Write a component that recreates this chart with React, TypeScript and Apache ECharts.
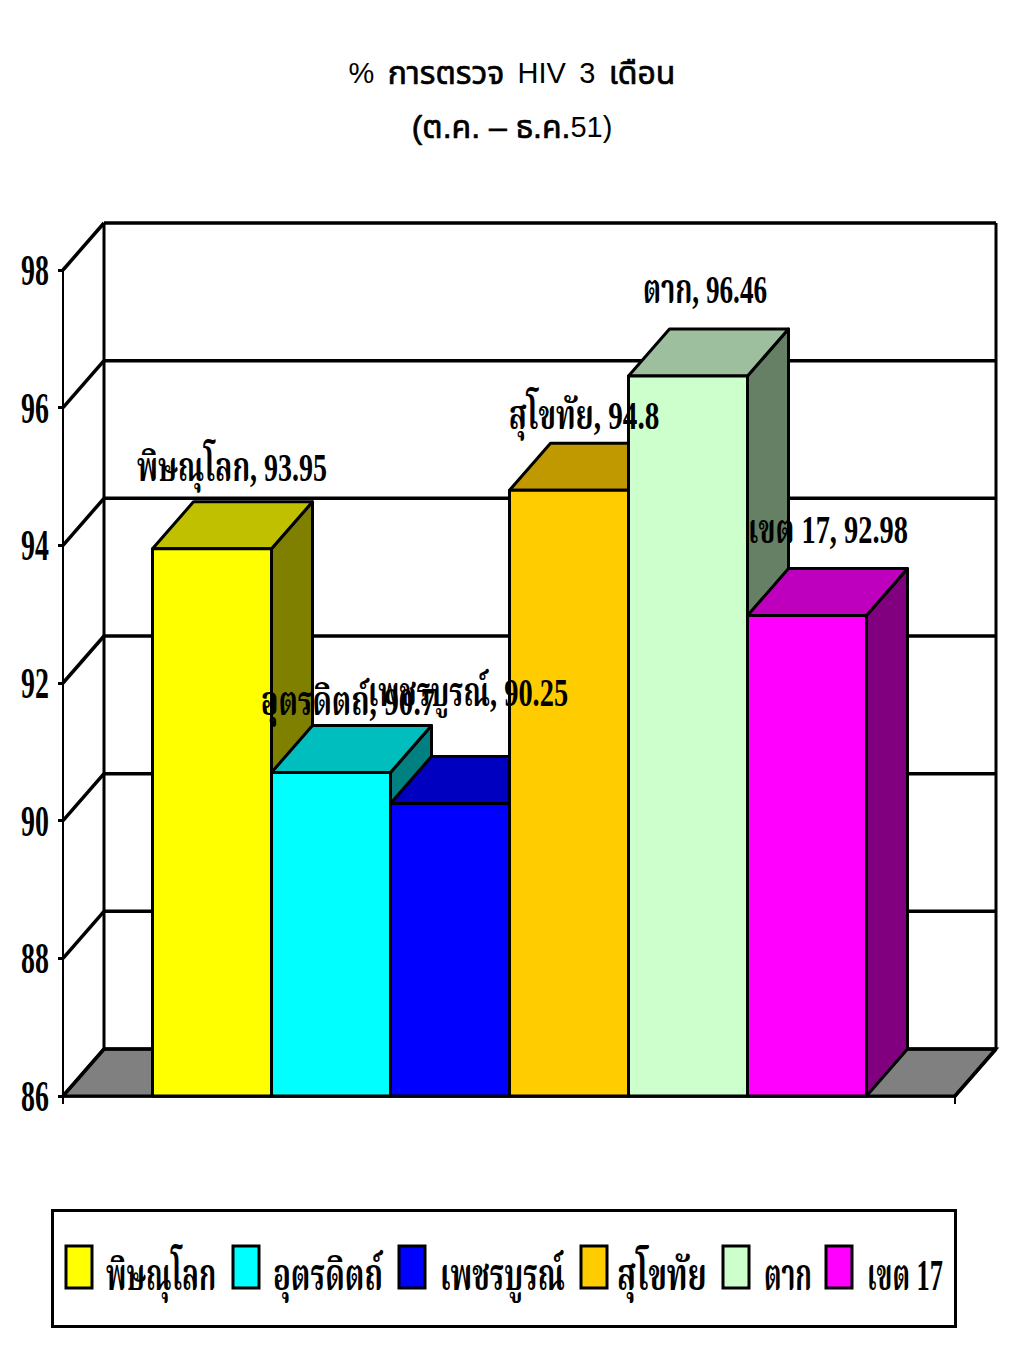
import React, { useEffect, useRef } from "react";
import * as echarts from "echarts";

const categories = ["พิษณุโลก", "อุตรดิตถ์", "เพชรบูรณ์", "สุโขทัย", "ตาก", "เขต 17"];
const values = [93.95, 90.7, 90.25, 94.8, 96.46, 92.98];
const frontColors = ["#FFFF00", "#00FFFF", "#0000FF", "#FFCC00", "#CCFFCC", "#FF00FF"];
const topColors = ["#C0C000", "#00BEBE", "#0000C0", "#C09900", "#9DBF9D", "#BE00BE"];
const sideColors = ["#808000", "#008080", "#000080", "#806600", "#668066", "#800080"];
const tickValues = [86, 88, 90, 92, 94, 96, 98];
const tickLabels = ["86", "88", "90", "92", "94", "96", "98"];

const labelShift = [[0, -35], [-3, -24], [-2, -64], [-5, -27], [-3, -39], [1, -39]];
const labelScale = [0.7, 0.73, 0.71, 0.73, 0.68, 0.71];
const legendSwatchX = [66, 233, 399, 581, 723, 826];
const legendTextX = [106, 273, 440, 617, 764, 867];
const legendScale = [0.62, 0.67, 0.66, 0.7, 0.6, 0.6];
const DX = 41;
const DY = -47;
const BAR_RATIO = 119 / 892;
const SERIF = '"Liberation Serif","Noto Serif Thai","Noto Sans Thai","DejaVu Serif",serif';
const SANS = '"Liberation Sans","Noto Sans Thai",Arial,sans-serif';

function wallItem(params: any, api: any) {
  const v = api.value(1);
  const [cx, y] = api.coord([0, v]);
  const band = api.size([1, 0])[0];
  const l = cx - band / 2;
  const r = cx + band / 2;
  const line = { stroke: "#000", lineWidth: 3.5 };
  const children: any[] = [];
  if (v === tickValues[0]) {
    const top = api.coord([0, tickValues[tickValues.length - 1]])[1];
    children.push({ type: "polygon", shape: { points: [[l, y], [l + DX, y + DY], [r + DX, y + DY], [r, y]] }, style: { fill: "#808080", stroke: "#000", lineWidth: 3 } });
    children.push({ type: "line", shape: { x1: l + DX, y1: top + DY, x2: l + DX, y2: y + DY }, style: { stroke: "#000", lineWidth: 3 } });
    children.push({ type: "line", shape: { x1: r + DX, y1: top + DY, x2: r + DX, y2: y + DY }, style: { stroke: "#000", lineWidth: 3 } });
    children.push({ type: "line", shape: { x1: r, y1: y, x2: r + DX, y2: y + DY }, style: line });
  }
  children.push({ type: "line", shape: { x1: l + DX, y1: y + DY, x2: r + DX, y2: y + DY }, style: line });
  children.push({ type: "line", shape: { x1: l, y1: y, x2: l + DX, y2: y + DY }, style: line });
  children.push({
    type: "text",
    x: l - 14,
    y: y,
    scaleX: 0.62,
    style: { text: tickLabels[params.dataIndex], font: `bold 45px ${SERIF}`, fill: "#000", align: "right", verticalAlign: "middle" },
  });
  return { type: "group", children };
}

function barItem(i: number) {
  return (_params: any, api: any) => {
    const [cx, y] = api.coord([0, api.value(1)]);
    const y0 = api.coord([0, tickValues[0]])[1];
    const band = api.size([1, 0])[0];
    const w = band * BAR_RATIO;
    const l = cx + (i - 3) * w + 0.5;
    const r = l + w;
    const edge = { stroke: "#000", lineWidth: 3, lineJoin: "round" };
    return {
      type: "group",
      children: [
        { type: "polygon", shape: { points: [[r, y], [r + DX, y + DY], [r + DX, y0 + DY], [r, y0]] }, style: { fill: sideColors[i], ...edge } },
        { type: "polygon", shape: { points: [[l, y], [l + DX, y + DY], [r + DX, y + DY], [r, y]] }, style: { fill: topColors[i], ...edge } },
        { type: "polygon", shape: { points: [[l, y], [r, y], [r, y0], [l, y0]] }, style: { fill: frontColors[i], ...edge } },
      ],
    };
  };
}

function labelItem(params: any, api: any) {
  const i = params.dataIndex;
  const [cx, y] = api.coord([0, api.value(1)]);
  const band = api.size([1, 0])[0];
  const w = band * BAR_RATIO;
  const x = cx + (i - 2.5) * w + DX / 2 + labelShift[i][0];
  return {
    type: "text",
    x,
    y: y + DY + labelShift[i][1],
    scaleX: labelScale[i],
    style: { text: `${categories[i]}, ${values[i]}`, font: `bold 40px ${SERIF}`, fill: "#000", align: "center", verticalAlign: "middle" },
  };
}

export default function App() {
  const ref = useRef<HTMLDivElement>(null);
  useEffect(() => {
    const chart = echarts.init(ref.current!, undefined, { renderer: "svg" });
    const legendChildren: any[] = [
      { type: "rect", shape: { x: 52.5, y: 1210.5, width: 903, height: 116 }, style: { fill: "#fff", stroke: "#000", lineWidth: 3 } },
    ];
    categories.forEach((c, i) => {
      legendChildren.push({ type: "rect", shape: { x: legendSwatchX[i], y: 1246, width: 26, height: 42 }, style: { fill: frontColors[i], stroke: "#000", lineWidth: 3 } });
      legendChildren.push({ type: "text", x: legendTextX[i], y: 1275, scaleX: legendScale[i], style: { text: c, font: `bold 44px ${SERIF}`, fill: "#000", align: "left", verticalAlign: "middle" } });
    });
    const rich = {
      th: { fontFamily: SANS, fontSize: 32, fontWeight: "normal", color: "#000", textBorderColor: "#000", textBorderWidth: 0.7 },
      la: { fontFamily: SANS, fontSize: 29, fontWeight: "normal", color: "#000" },
      sp: { fontFamily: SANS, fontSize: 48, color: "#000" },
    };
    chart.setOption({
      animation: false,
      backgroundColor: "#fff",
      title: [
        { text: "{la|%}{sp| }{th|การตรวจ}{sp| }{la|HIV}{sp| }{la|3}{sp| }{th|เดือน}", left: "center", top: 44, textStyle: { rich } },
        { text: "{th|(ต.ค. – ธ.ค.}{la|51)}", left: "center", top: 106, textStyle: { rich } },
      ],
      grid: { left: 63, right: 69, top: 270, bottom: 269 },
      xAxis: {
        type: "category",
        data: [""],
        axisLine: { lineStyle: { color: "#000", width: 3.5 } },
        axisTick: { show: true, length: 8, lineStyle: { color: "#000", width: 2 } },
        axisLabel: { show: false },
        splitLine: { show: false },
      },
      yAxis: {
        type: "value",
        min: 86,
        max: 98,
        interval: 2,
        axisLine: { show: true, lineStyle: { color: "#000", width: 2 } },
        axisTick: { show: true, length: 5, lineStyle: { color: "#000", width: 3 } },
        axisLabel: { show: false },
        splitLine: { show: false },
      },
      graphic: { elements: legendChildren },
      series: [
        { type: "custom", name: "wall", silent: true, z: 1, clip: false, renderItem: wallItem, data: tickValues.map((v) => [0, v]) },
        ...categories.map((c, i) => ({ type: "custom", name: c, silent: true, z: 2 + i, clip: false, renderItem: barItem(i), data: [[0, values[i]]] })),
        { type: "custom", name: "labels", silent: true, z: 20, clip: false, renderItem: labelItem, data: values.map((v) => [0, v]) },
      ],
    });
    return () => chart.dispose();
  }, []);
  return <div ref={ref} style={{ position: "absolute", left: 0, top: 0, width: 1024, height: 1365 }} />;
}
